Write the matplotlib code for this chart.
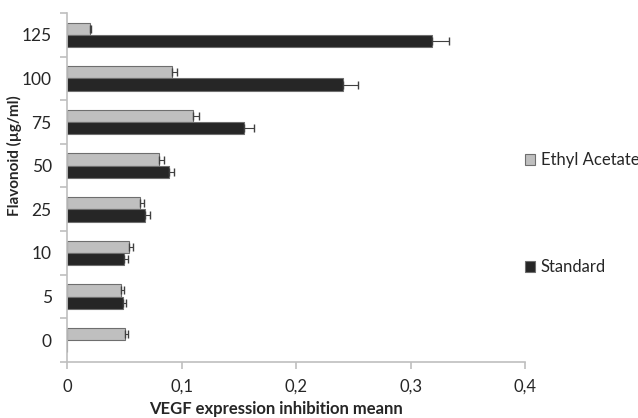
import numpy as np
import matplotlib
matplotlib.use("Agg")
import matplotlib.pyplot as plt
from matplotlib.ticker import FixedLocator, FuncFormatter

# Flavonoid concentrations (bottom to top) and the two series
doses = ["0", "5", "10", "25", "50", "75", "100", "125"]
ethyl_acetate = [0.0507, 0.0469, 0.0539, 0.0640, 0.0803, 0.1097, 0.0914, 0.0200]
ethyl_err = [0.0026, 0.0030, 0.0037, 0.0035, 0.0040, 0.0056, 0.0044, 0.0010]
standard = [0.0, 0.0486, 0.0500, 0.0681, 0.0891, 0.1549, 0.2413, 0.3185]
standard_err = [0.0, 0.0032, 0.0035, 0.0040, 0.0044, 0.0087, 0.0130, 0.0155]

plt.rcParams["font.family"] = ["Lato", "DejaVu Sans"]

fig = plt.figure(figsize=(6.38, 4.18), dpi=100)
ax = fig.add_axes([0.105, 0.134, 0.718, 0.835])

y = np.arange(len(doses))
h = 0.28

ax.barh(y + h / 2, ethyl_acetate, height=h, color="#bfbfbf", edgecolor="#6e6e6e",
        linewidth=0.8, label="Ethyl Acetate")
ax.barh(y - h / 2, standard, height=h, color="#262626", edgecolor="#6e6e6e",
        linewidth=0.8, label="Standard")

zeros = np.zeros(len(doses))
ax.errorbar(ethyl_acetate, y + h / 2, xerr=[zeros, ethyl_err], fmt="none",
            ecolor="#404040", elinewidth=0.8, capsize=3)
mask = np.array(standard) > 0
ax.errorbar(np.array(standard)[mask], (y - h / 2)[mask],
            xerr=[zeros[mask], np.array(standard_err)[mask]], fmt="none",
            ecolor="#404040", elinewidth=0.8, capsize=3)

ax.set_xlim(0, 0.4)
ax.set_ylim(-0.5, len(doses) - 0.5)
ax.set_xticks([0, 0.1, 0.2, 0.3, 0.4])
ax.xaxis.set_major_formatter(FuncFormatter(lambda v, p: "0" if v == 0 else f"{v:.1f}".replace(".", ",")))
ax.set_yticks(y)
ax.set_yticklabels(doses)
ax.yaxis.set_minor_locator(FixedLocator(np.arange(-0.5, len(doses), 1.0)))

for s in ["top", "right"]:
    ax.spines[s].set_visible(False)
for s in ["left", "bottom"]:
    ax.spines[s].set_color("#bfbfbf")
    ax.spines[s].set_linewidth(1.2)

ax.tick_params(axis="y", which="major", length=0, pad=11, labelsize=12.5, labelcolor="#262626")
ax.tick_params(axis="y", which="minor", length=5, color="#bfbfbf", width=1.2)
ax.tick_params(axis="x", length=5, color="#bfbfbf", width=1.2, labelsize=12,
               labelcolor="#262626", pad=7)

ax.set_xlabel("VEGF expression inhibition meann", fontsize=12, fontweight="bold",
              color="#262626")
ax.xaxis.set_label_coords(0.456, -0.112)
ax.set_ylabel("Flavonoid (µg/ml)", fontsize=11, fontweight="bold", color="#262626")
ax.yaxis.set_label_coords(-0.098, 0.59)

leg = ax.legend(loc="upper left", bbox_to_anchor=(0.985, 0.62), frameon=False,
                fontsize=12, labelspacing=5.45, handlelength=0.6, handleheight=0.6,
                handletextpad=0.35, borderaxespad=0)
for t in leg.get_texts():
    t.set_color("#262626")

fig.savefig("out.png", dpi=100)
